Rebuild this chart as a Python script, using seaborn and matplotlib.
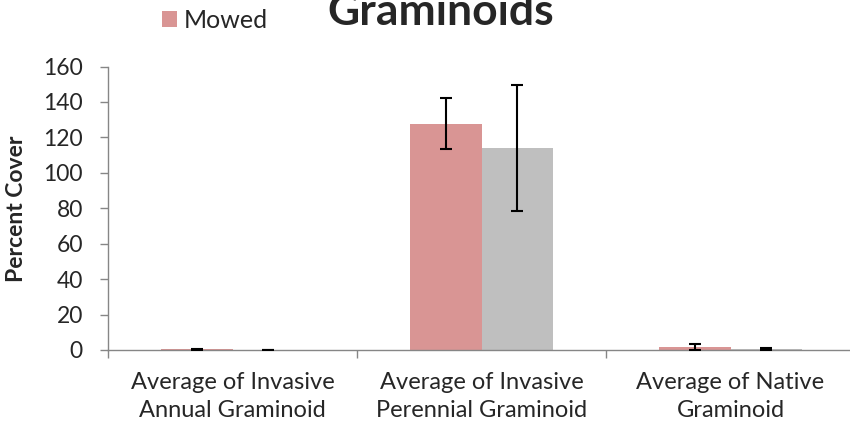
import pandas as pd
import seaborn as sns
import matplotlib.pyplot as plt
from matplotlib.ticker import FixedLocator

# values
categories = ["Average of Invasive\nAnnual Graminoid",
              "Average of Invasive\nPerennial Graminoid",
              "Average of Native\nGraminoid"]
mowed = [0.3, 127.7, 1.5]
mowed_err = [0.2, 14.3, 1.7]
unmowed = [0.1, 114.0, 0.4]
unmowed_err = [0.1, 35.3, 0.6]

df = pd.DataFrame({
    "Category": categories * 2,
    "Treatment": ["Mowed"] * 3 + ["Unmowed"] * 3,
    "Cover": mowed + unmowed,
})

sns.set_style("white")
plt.rcParams["font.family"] = ["Lato", "DejaVu Sans"]

fig = plt.figure(figsize=(8.5, 4.3), dpi=100)
ax = fig.add_axes([108 / 850, 80 / 430, 747 / 850, 283.5 / 430])

sns.barplot(data=df, x="Category", y="Cover", hue="Treatment",
            palette=["#D99594", "#BFBFBF"], width=0.574, errorbar=None,
            saturation=1, legend=False, linewidth=0, ax=ax)

# error bars at the bar centres seaborn drew
for cont, errs in zip(ax.containers, [mowed_err, unmowed_err]):
    xs = [p.get_x() + p.get_width() / 2 for p in cont.patches]
    hs = [p.get_height() for p in cont.patches]
    ax.errorbar(xs, hs, yerr=errs, fmt="none", ecolor="black",
                elinewidth=1.5, capsize=4.3, capthick=1.5, zorder=5)

ax.set_xlim(-0.5, 2.5)
ax.set_ylim(0, 160)
ax.set_yticks(range(0, 161, 20))
ax.tick_params(axis="y", labelsize=16.5, length=6, color="#868686",
               width=1, direction="out", left=True, pad=12)
ax.tick_params(axis="x", which="major", length=0, labelsize=17, pad=16)
ax.xaxis.set_minor_locator(FixedLocator([-0.5, 0.5, 1.5, 2.5]))
ax.tick_params(axis="x", which="minor", length=6, color="#868686",
               width=1, direction="out", bottom=True)
for lbl in ax.get_xticklabels():
    lbl.set_linespacing(1.4)

sns.despine(ax=ax)
for s in ["left", "bottom"]:
    ax.spines[s].set_color("#868686")
    ax.spines[s].set_linewidth(1)

ax.set_xlabel("")
ax.set_ylabel("Percent Cover", fontsize=16.5, fontweight="bold")
ax.yaxis.set_label_coords(-0.108, 0.5)

fig.text(441 / 850, 1 - 25 / 430, "Graminoids", fontsize=32,
         fontweight="bold", ha="center", va="baseline")

fig.legend(handles=[ax.containers[0]], labels=["Mowed"], loc="center left",
           bbox_to_anchor=(162 / 850, 1 - 20.5 / 430), frameon=False,
           fontsize=18, handlelength=0.6, handleheight=0.6,
           handletextpad=0.25, borderpad=0, borderaxespad=0)

fig.savefig("out.png", dpi=100)
